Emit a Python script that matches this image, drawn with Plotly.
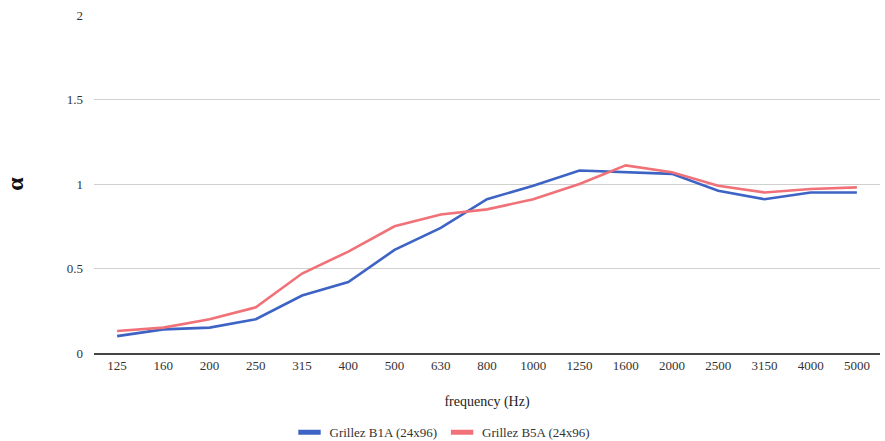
import plotly.graph_objects as go

freqs = ["125", "160", "200", "250", "315", "400", "500", "630", "800", "1000",
         "1250", "1600", "2000", "2500", "3150", "4000", "5000"]
b1a = [0.10, 0.14, 0.15, 0.20, 0.34, 0.42, 0.61, 0.74, 0.91, 0.99,
       1.08, 1.07, 1.06, 0.96, 0.91, 0.95, 0.95]
b5a = [0.13, 0.15, 0.20, 0.27, 0.47, 0.60, 0.75, 0.82, 0.85, 0.91,
       1.00, 1.11, 1.07, 0.99, 0.95, 0.97, 0.98]
series_names = ["Grillez B1A (24x96)", "Grillez B5A (24x96)"]
series_colors = ["#3d63c4", "#f07278"]
y_ticks = [0, 0.5, 1, 1.5, 2]
y_tick_text = ["0", "0.5", "1", "1.5", "2"]

font_family = "Liberation Serif"

fig = go.Figure()
for vals, name, color in zip([b1a, b5a], series_names, series_colors):
    fig.add_trace(go.Scatter(x=freqs, y=vals, mode="lines", name=name,
                             showlegend=False, line=dict(color=color, width=2.6)))
    # legend entry with a short thick bar symbol
    fig.add_trace(go.Scatter(x=[None], y=[None], mode="markers", name=name,
                             marker=dict(symbol="line-ew", size=16,
                                         line=dict(color=color, width=5))))

fig.update_layout(
    width=885, height=441,
    margin=dict(l=94, r=5, t=15, b=88),
    paper_bgcolor="white", plot_bgcolor="white",
    font=dict(family=font_family, size=13, color="#333333"),
    showlegend=True,
    legend=dict(orientation="h", xref="container", yref="container",
                x=0.5, xanchor="center", y=0.02, yanchor="middle",
                font=dict(family=font_family, size=13, color="#333333"),
                itemwidth=30),
    xaxis=dict(
        type="category", automargin=False,
        title=dict(text="frequency (Hz)", font=dict(family=font_family, size=14, color="#222222"),
                   standoff=24),
        showgrid=False, showline=True, linecolor="#444444", linewidth=1.5,
        ticks="", tickfont=dict(family=font_family, size=13, color="#333333"),
        range=[-0.5, 16.5],
    ),
    yaxis=dict(
        automargin=False,
        title=dict(text="<b>α</b>", font=dict(family=font_family, size=24, color="#111111"),
                   standoff=36),
        range=[0, 2], tickvals=y_ticks, ticktext=y_tick_text,
        showgrid=True, gridcolor="#d0d0d0", gridwidth=1,
        zeroline=False, showline=False, ticks="",
        tickfont=dict(family=font_family, size=13, color="#333333"),
        ticklabelstandoff=10,
    ),
)

fig.write_html("out.html", config={"displayModeBar": False},
               post_script="document.body.style.margin='0';document.body.style.overflow='hidden';")
